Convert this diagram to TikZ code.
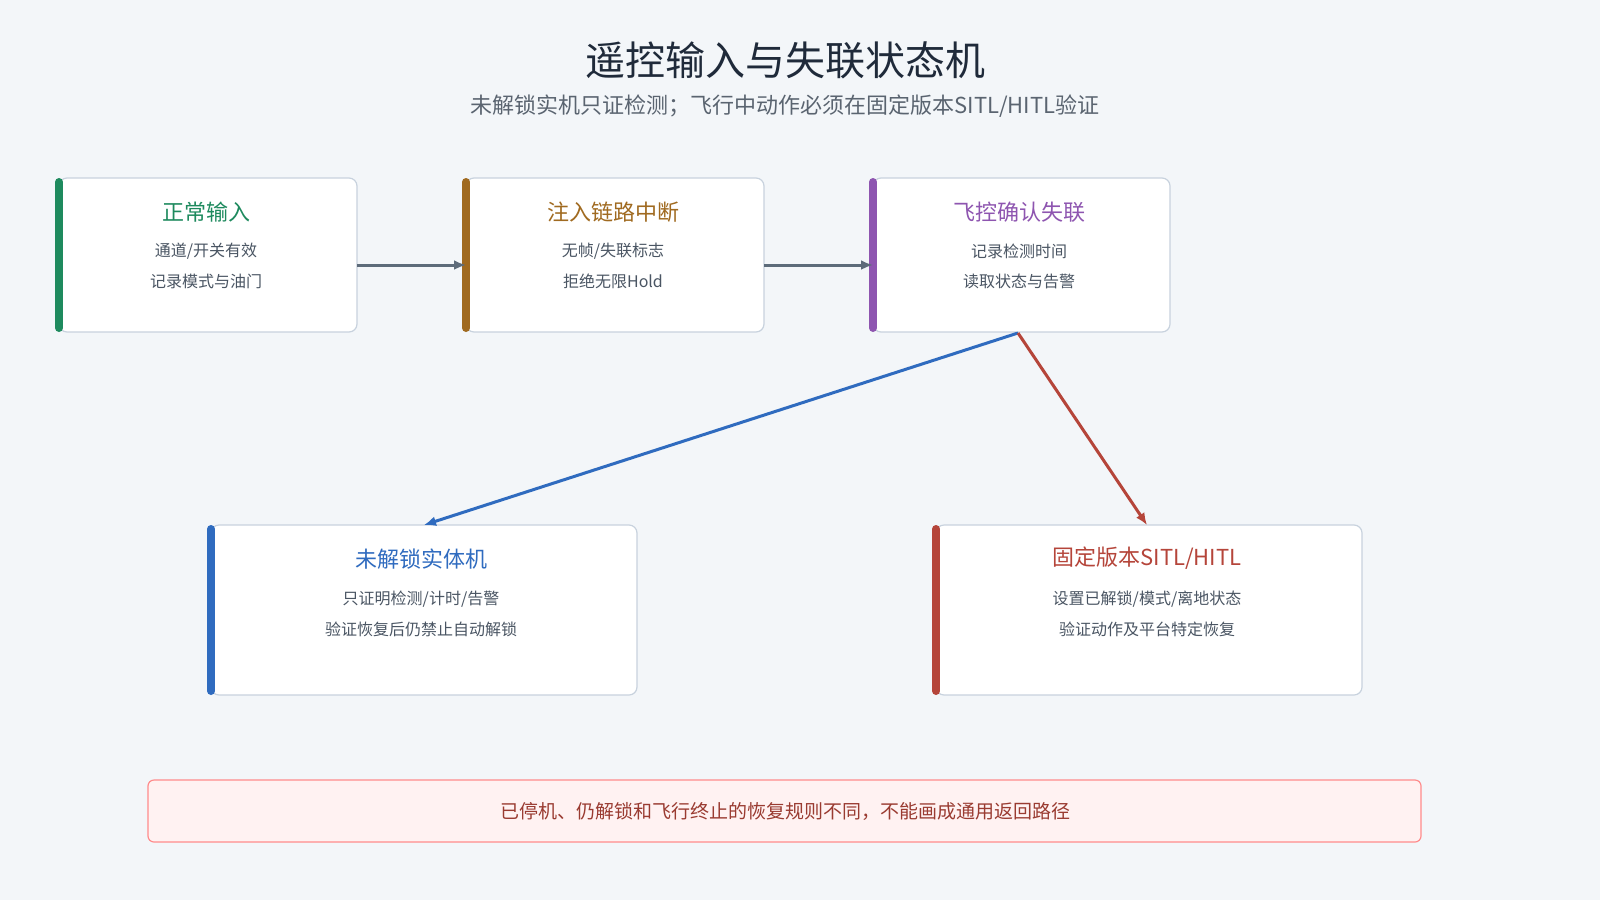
\documentclass[tikz,border=0pt]{standalone}
\usepackage{fontspec}
\setmainfont{Noto Sans CJK SC}
\usepackage{xcolor}
\usetikzlibrary{positioning,arrows.meta}
\definecolor{bgc}{HTML}{F3F6F9}
\definecolor{ink}{HTML}{1F2A3A}
\definecolor{sub}{HTML}{5A6470}
\definecolor{txt}{HTML}{4A5563}
\definecolor{edge}{HTML}{C8D2DE}
\definecolor{cgreen}{HTML}{1E8A5E}
\definecolor{corange}{HTML}{A06A20}
\definecolor{cpurple}{HTML}{8E55B0}
\definecolor{cblue}{HTML}{2F6BBF}
\definecolor{cred}{HTML}{B5453A}
\definecolor{cgray}{HTML}{5D6B7A}
\begin{document}
\begin{tikzpicture}[x=1pt,y=-1pt,
  card/.style={draw=edge,line width=1.2pt,fill=white,rounded corners=8pt},
  bar/.style={line width=8pt,line cap=round},
  head/.style={font=\fontsize{22}{26}\selectfont},
  line/.style={font=\fontsize{16}{19}\selectfont,text=txt},
  link/.style={-{Latex[length=12pt,width=10pt]},line width=3pt}]
\useasboundingbox (0,0) rectangle (1600,900);
\fill[bgc] (0,0) rectangle (1600,900);
\node[font=\fontsize{40}{46}\selectfont,text=ink] (title) at (785,60) {遥控输入与失联状态机};
\node[font=\fontsize{22}{26}\selectfont,text=sub] (subtitle) at (785,106) {未解锁实机只证检测；飞行中动作必须在固定版本SITL/HITL验证};
% top row
\draw[card] (59,178) rectangle (357,332);
\draw[bar,cgreen] (59,182) -- (59,328);
\node[head,text=cgreen] (h1) at (206,212) {正常输入};
\node[line] at (206,251) {通道/开关有效};
\node[line] at (206,281) {记录模式与油门};
\coordinate (b1e) at (357,265);
\draw[card] (466,178) rectangle (764,332);
\draw[bar,corange] (466,182) -- (466,328);
\node[head,text=corange] (h2) at (613,212) {注入链路中断};
\node[line] at (613,251) {无帧/失联标志};
\node[line] at (613,281) {拒绝无限Hold};
\coordinate (b2w) at (466,265);
\coordinate (b2e) at (764,265);
\draw[card] (873,178) rectangle (1170,332);
\draw[bar,cpurple] (873,182) -- (873,328);
\node[head,text=cpurple] (h3) at (1019,212) {飞控确认失联};
\node[line] at (1019,251) {记录检测时间};
\node[line] at (1019,281) {读取状态与告警};
\coordinate (b3w) at (873,265);
\coordinate (b3s) at (1018,333);
% bottom row
\draw[card] (211,525) rectangle (637,695);
\draw[bar,cblue] (211,529) -- (211,691);
\node[head,text=cblue] (h4) at (421,559) {未解锁实体机};
\node[line] at (421,599) {只证明检测/计时/告警};
\node[line] at (421,629) {验证恢复后仍禁止自动解锁};
\coordinate (b4n) at (424,525);
\draw[card] (936,525) rectangle (1362,695);
\draw[bar,cred] (936,529) -- (936,691);
\node[head,text=cred] (h5) at (1147,558) {固定版本SITL/HITL};
\node[line] at (1147,599) {设置已解锁/模式/离地状态};
\node[line] at (1147,629) {验证动作及平台特定恢复};
\coordinate (b5n) at (1147,525);
% connectors
\draw[link,cgray] (b1e) -- (b2w);
\draw[link,cgray] (b2e) -- (b3w);
\draw[link,cblue] (b3s) -- (b4n);
\draw[link,cred] (b3s) -- (b5n);
% note
\draw[draw=red!45!white,fill=red!5!white,line width=1.2pt,rounded corners=6pt] (148,780) rectangle (1421,842);
\node[font=\fontsize{19}{23}\selectfont,text=cred!85!black] (note) at (785,811) {已停机、仍解锁和飞行终止的恢复规则不同，不能画成通用返回路径};
\end{tikzpicture}
\end{document}
